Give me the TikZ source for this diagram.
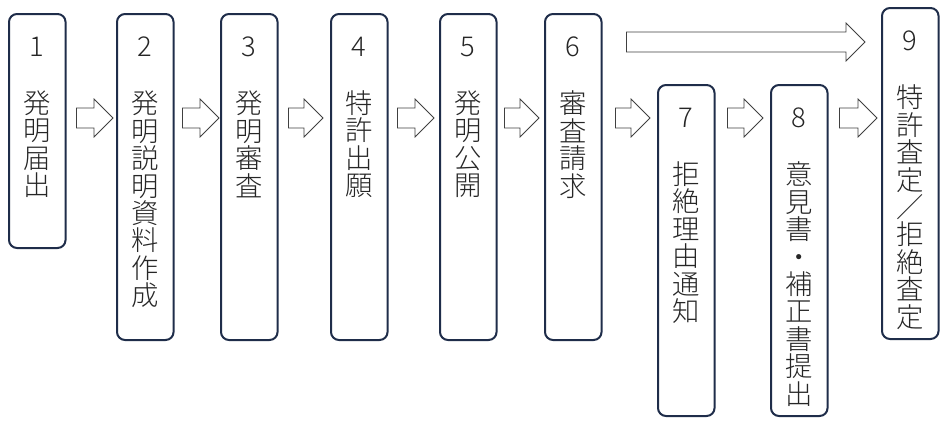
\documentclass[tikz,border=0pt]{standalone}
\usepackage{fontspec}
\setmainfont{Noto Sans CJK JP}[UprightFont={* Light}]
\usepackage{tikz}
\usetikzlibrary{calc}

\definecolor{boxline}{HTML}{1F2D4A}
\definecolor{arrowline}{HTML}{404040}
\definecolor{labeltext}{HTML}{262626}

\tikzset{
	stepbox/.style={draw=boxline, line width=1.5pt, rounded corners=6pt, minimum width=42.4pt, anchor=north west, inner sep=0pt},
	steplabel/.style={anchor=north, inner sep=0pt, align=center, text=labeltext, font={\fontsize{20.5}{20.55}\selectfont\lineskiplimit=-20pt}},
	flow/.style={draw=arrowline, line width=0.6pt, fill=white}
}

% outlined block arrow, tail at #1, tip at #2
\newcommand\blockarrow[2]{%
	\draw[flow] ($(#1)+(0,-10)$) -- ($(#2)+(-19,-10)$) -- ($(#2)+(-19,-19)$) -- (#2) -- ($(#2)+(-19,19)$) -- ($(#2)+(-19,10)$) -- ($(#1)+(0,10)$) -- cycle;}

\begin{document}
\begin{tikzpicture}[x=0.75pt,y=0.75pt,yscale=-1,xscale=1]
	\useasboundingbox (0,0) rectangle (951,429);
	
	%Shape: Rounded Rectangle
	\node[stepbox, minimum height=175.5pt] (b1) at (8,13) {};
	\node[stepbox, minimum height=244.5pt] (b2) at (116,13) {};
	\node[stepbox, minimum height=244.5pt] (b3) at (220,13) {};
	\node[stepbox, minimum height=244.5pt] (b4) at (330,13) {};
	\node[stepbox, minimum height=244.5pt] (b5) at (439,13) {};
	\node[stepbox, minimum height=244.5pt] (b6) at (544,13) {};
	\node[stepbox, minimum height=248.25pt] (b7) at (657,84) {};
	\node[stepbox, minimum height=248.25pt] (b8) at (770,84) {};
	\node[stepbox, minimum height=248.25pt] (b9) at (881,7) {};
	
	% Text Node
	\node[steplabel] (l1) at ($(b1.north)+(0,23.5)$) {1\\[22.5pt]発\\明\\届\\出};
	% Text Node
	\node[steplabel] (l2) at ($(b2.north)+(0,23.5)$) {2\\[22.5pt]発\\明\\説\\明\\資\\料\\作\\成};
	% Text Node
	\node[steplabel] (l3) at ($(b3.north)+(0,23.5)$) {3\\[22.5pt]発\\明\\審\\査};
	% Text Node
	\node[steplabel] (l4) at ($(b4.north)+(0,23.5)$) {4\\[22.5pt]特\\許\\出\\願};
	% Text Node
	\node[steplabel] (l5) at ($(b5.north)+(0,23.5)$) {5\\[22.5pt]発\\明\\公\\開};
	% Text Node
	\node[steplabel] (l6) at ($(b6.north)+(0,23.5)$) {6\\[22.5pt]審\\査\\請\\求};
	% Text Node
	\node[steplabel] (l7) at ($(b7.north)+(0,23.5)$) {7\\[22.5pt]拒\\絶\\理\\由\\通\\知};
	% Text Node
	\node[steplabel] (l8) at ($(b8.north)+(0,23.5)$) {8\\[22.5pt]意\\見\\書\\・\\補\\正\\書\\提\\出};
	% Text Node
	\node[steplabel] (l9) at ($(b9.north)+(0,23.5)$) {9\\[22.5pt]特\\許\\査\\定\\／\\拒\\絶\\査\\定};
	
	%Block Arrows
	\foreach \i/\j/\a/\b in {1/2/10/3, 2/3/8/1, 3/4/10/7, 4/5/9/5, 5/6/7/5, 6/7/13/7, 7/8/12/7, 8/9/11/4} {
		\path (b\i.east |- 0,118) ++(\a,0) coordinate (s\i);
		\path (b\j.west |- 0,118) ++(-\b,0) coordinate (t\i);
		\blockarrow{s\i}{t\i}
	}
	%Block Arrow (6 to 9)
	\path (b6.east |- 0,42) ++(24,0) coordinate (s0);
	\path (b9.west |- 0,42) ++(-16,0) coordinate (t0);
	\blockarrow{s0}{t0}
\end{tikzpicture}
\end{document}
